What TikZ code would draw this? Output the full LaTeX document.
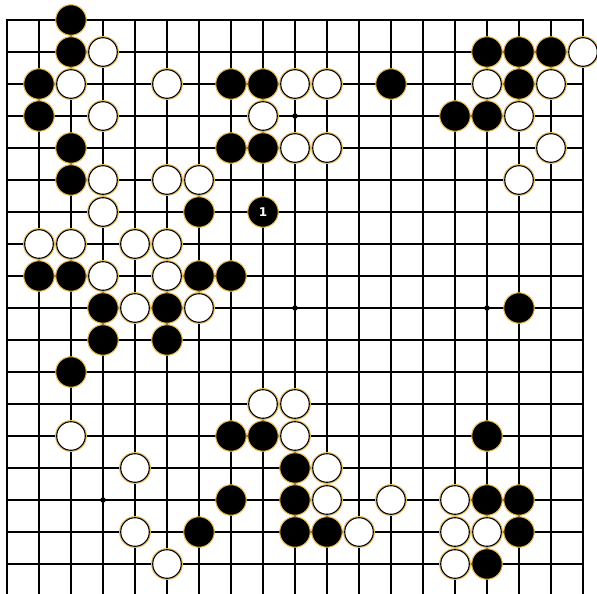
\documentclass[tikz,border=0pt]{standalone}
\usepackage{fontspec}
\setsansfont{DejaVu Sans}
\definecolor{halo}{HTML}{E9B949}
\tikzset{
  gridline/.style={line width=1.3pt, black},
  edgeline/.style={line width=2.6pt, black},
  bstone/.style={circle, fill=black, draw=halo, line width=1pt, minimum size=30.5pt, inner sep=0pt},
  wstone/.style={circle, fill=white, draw=black, line width=1.1pt, minimum size=28.6pt, inner sep=0pt},
  wring/.style={circle, draw=halo, line width=1pt, minimum size=30.8pt, inner sep=0pt},
  hoshi/.style={circle, fill=black, minimum size=5.5pt, inner sep=0pt},
  numlbl/.style={text=white, font=\sffamily\bfseries\fontsize{12}{12}\selectfont}
}
\begin{document}
\begin{tikzpicture}[x=1pt,y=-1pt]
\useasboundingbox (0,0) rectangle (597,594);
\fill[white] (0,0) rectangle (597,594);
\begin{scope}
\clip (0,0) rectangle (597,594);
% grid
\foreach \c in {2,...,18}{
  \pgfmathsetmacro{\xx}{7+32*(\c-1)}
  \draw[gridline] (\xx,20) -- (\xx,600);
}
\foreach \r in {2,...,18}{
  \pgfmathsetmacro{\yy}{20+32*(\r-1)}
  \draw[gridline] (7,\yy) -- (583,\yy);
}
\draw[edgeline] (7,600) -- (7,20) -- (583,20) -- (583,600);
% star points
\foreach \c/\r [count=\i] in {10/4,10/10,16/10,4/16}{
  \node[hoshi] (h\i) at ({7+32*(\c-1)},{20+32*(\r-1)}) {};
}
% black stones
\foreach \c/\r [count=\i] in {3/1,3/2,16/2,17/2,18/2,2/3,8/3,9/3,13/3,17/3,2/4,15/4,16/4,3/5,8/5,9/5,
  3/6,7/7,2/9,3/9,7/9,8/9,4/10,6/10,17/10,4/11,6/11,3/12,8/14,9/14,16/14,10/15,
  8/16,10/16,16/16,17/16,7/17,10/17,11/17,17/17,16/18}{
  \node[bstone] (b\i) at ({7+32*(\c-1)},{20+32*(\r-1)}) {};
}
% white stones
\foreach \c/\r [count=\i] in {4/2,19/2,3/3,6/3,10/3,11/3,16/3,18/3,4/4,9/4,17/4,10/5,11/5,18/5,
  4/6,6/6,7/6,17/6,4/7,2/8,3/8,5/8,6/8,4/9,6/9,5/10,7/10,9/13,10/13,3/14,10/14,
  5/15,11/15,11/16,13/16,15/16,5/17,12/17,15/17,16/17,6/18,15/18}{
  \node[wring] (wr\i) at ({7+32*(\c-1)},{20+32*(\r-1)}) {};
  \node[wstone] (w\i) at ({7+32*(\c-1)},{20+32*(\r-1)}) {};
}
% numbered stone
\node[bstone] (m1) at ({7+32*8},{20+32*6}) {};
\node[numlbl] (m1t) at (m1) {1};
\end{scope}
\end{tikzpicture}
\end{document}
